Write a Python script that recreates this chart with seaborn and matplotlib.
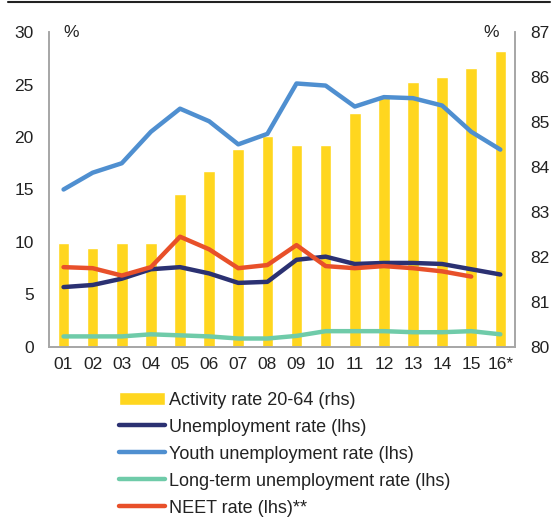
import numpy as np
import pandas as pd
import matplotlib.pyplot as plt
from matplotlib.lines import Line2D
import seaborn as sns

sns.set_theme(style="white")
plt.rcParams["font.family"] = ["Liberation Sans", "DejaVu Sans"]

years = ["01", "02", "03", "04", "05", "06", "07", "08",
         "09", "10", "11", "12", "13", "14", "15", "16*"]
activity = [82.3, 82.2, 82.3, 82.3, 83.4, 83.9, 84.4, 84.7,
            84.5, 84.5, 85.2, 85.55, 85.9, 86.0, 86.2, 86.58]
unemployment = [5.7, 5.9, 6.5, 7.4, 7.6, 7.0, 6.1, 6.2,
                8.3, 8.6, 7.9, 8.0, 8.0, 7.9, 7.4, 6.9]
youth = [15.0, 16.6, 17.5, 20.5, 22.7, 21.5, 19.3, 20.3,
         25.1, 24.9, 22.9, 23.8, 23.7, 23.0, 20.5, 18.8]
longterm = [1.0, 1.0, 1.0, 1.2, 1.1, 1.0, 0.8, 0.8,
            1.05, 1.5, 1.5, 1.5, 1.4, 1.4, 1.5, 1.2]
neet = [7.6, 7.5, 6.8, 7.6, 10.5, 9.3, 7.5, 7.8,
        9.7, 7.7, 7.5, 7.7, 7.5, 7.2, 6.7, np.nan]

YELLOW = "#FFD61F"
NAVY = "#2B3172"
BLUE = "#4F8FD0"
TEAL = "#6FCBA9"
RED = "#E8502A"
GREY = "#A6A6A6"

df = pd.DataFrame({"year": years, "pos": np.arange(len(years)),
                   "activity": activity, "unemp": unemployment,
                   "youth": youth, "lt": longterm, "neet": neet})

fig = plt.figure(figsize=(5.53, 5.17), dpi=100)
ax = fig.add_axes([0.0886, 0.329, 0.8425, 0.609])
ax2 = ax.twinx()

# bars on the right axis, lines on the left axis drawn above
sns.barplot(data=df, x="pos", y="activity", ax=ax2, color=YELLOW,
            saturation=1, width=0.4, label="Activity rate 20-64 (rhs)")
ax.set_zorder(ax2.get_zorder() + 1)
ax.patch.set_visible(False)

series = [("unemp", NAVY, "Unemployment rate (lhs)"),
          ("youth", BLUE, "Youth unemployment rate (lhs)"),
          ("lt", TEAL, "Long-term unemployment rate (lhs)"),
          ("neet", RED, "NEET rate (lhs)**")]
for col, c, lab in series:
    sns.lineplot(data=df, x="pos", y=col, ax=ax, color=c, lw=3.2,
                 label=lab, solid_capstyle="round")

ax.set_xlim(-0.5, len(years) - 0.5)
ax.set_ylim(0, 30)
ax2.set_ylim(80, 87)
ax.set_yticks(range(0, 31, 5))
ax2.set_yticks(range(80, 88))
ax.set_xticks(df["pos"])
ax.set_xticklabels(years)
ax.set_xlabel("")
ax.set_ylabel("")
ax2.set_xlabel("")
ax2.set_ylabel("")

for a in (ax, ax2):
    a.tick_params(length=0, labelsize=12.5, colors="#222222")
    a.spines["top"].set_visible(False)
    for s in ("left", "right", "bottom"):
        a.spines[s].set_color(GREY)
        a.spines[s].set_linewidth(1.2)
ax.tick_params(axis="y", pad=11)
ax.tick_params(axis="x", pad=7)
ax2.tick_params(axis="y", pad=11)

ax.text(0.03, 1.0, "%", transform=ax.transAxes, fontsize=12.5,
        ha="left", va="center", color="#222222")
ax.text(0.965, 1.0, "%", transform=ax.transAxes, fontsize=12.5,
        ha="right", va="center", color="#222222")

ax.get_legend().remove()
h1, l1 = ax2.get_legend_handles_labels()
h2, l2 = ax.get_legend_handles_labels()
leg = fig.legend(h1 + h2, l1 + l2, loc="upper left",
                 bbox_to_anchor=(0.215, 0.242), frameon=False,
                 fontsize=13, handlelength=2.55, handletextpad=0.25,
                 labelspacing=0.55, borderaxespad=0, borderpad=0)
for t in leg.get_texts():
    t.set_color("#222222")
if ax2.get_legend() is not None:
    ax2.get_legend().remove()

# thin rule across the top of the figure
fig.add_artist(Line2D([0.015, 0.995], [0.997, 0.997], color="#222222",
                      lw=1.5, transform=fig.transFigure))

fig.savefig("out.png", dpi=100)
